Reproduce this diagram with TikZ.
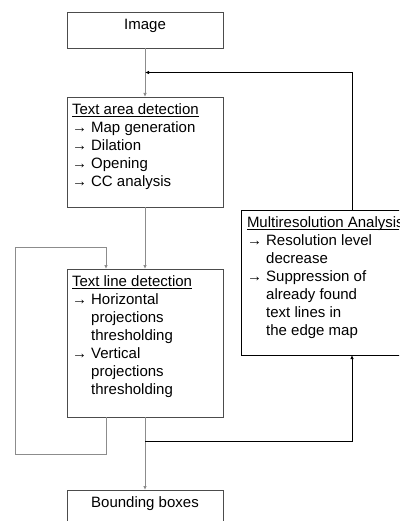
\documentclass[tikz,border=0pt]{standalone}
\usepackage{fontspec}
\setmainfont{Liberation Sans}
\usetikzlibrary{positioning,calc,arrows.meta}

\newlength{\arrowind}
\newsavebox{\titlebox}
\newcommand{\titleline}[1]{\sbox{\titlebox}{#1}\rlap{\rule[-1.8pt]{\wd\titlebox}{0.8pt}}\usebox{\titlebox}}
\newcommand{\flowitem}[1]{\par\settowidth{\arrowind}{→\ }\hangindent=\arrowind\hangafter=1\noindent→\ #1}
\newcommand{\boxtext}[3]{\begin{minipage}[t][#1][t]{#2}\raggedright\strut#3\end{minipage}}

\begin{document}
\begin{tikzpicture}[x=1pt, y=1pt,
				stage/.style={rectangle, draw=black!70, line width=0.8pt, inner xsep=5pt, inner ysep=5pt, outer sep=0pt, font=\fontsize{15}{18}\selectfont},
				multi/.style={stage, draw=black, inner xsep=6pt},
				flow/.style={draw=black!45, line width=0.9pt, -{Latex[length=4pt,width=3.5pt]}},
				back/.style={draw=black, line width=0.8pt, -{Latex[length=4pt,width=3.5pt]}}
			]
			\useasboundingbox (0,0) rectangle (399,-521);
			\clip (0,0) rectangle (399,-521);
			\node[stage, anchor=north west] (image) at (67,-12) {\boxtext{26pt}{146pt}{\centering Image}};
			\node[stage] (area) [below=49pt of image] {\boxtext{100pt}{146pt}{\titleline{Text area detection}
				\flowitem{Map generation}
				\flowitem{Dilation}
				\flowitem{Opening}
				\flowitem{CC analysis}}};
			\node[stage] (line) [below=62pt of area] {\boxtext{138pt}{146pt}{\titleline{Text line detection}
				\flowitem{Horizontal\newline projections\newline thresholding}
				\flowitem{Vertical\newline projections\newline thresholding}}};
			\node[stage] (bound) [below=73pt of line] {\boxtext{26pt}{146pt}{\centering Bounding boxes}};
			\node[multi, anchor=north west] (multires) at (241,-210) {\boxtext{135pt}{160pt}{\titleline{Multiresolution Analysis}
				\flowitem{Resolution level\newline decrease}
				\flowitem{Suppression of\newline already found\newline text lines in\newline the edge map}}};
			\coordinate (join) at ($(image.south)!0.5!(area.north)$);
			\coordinate (split) at ([yshift=-24pt]line.south);
			\coordinate (mtop) at ([xshift=111pt]multires.north west);
			\coordinate (mbot) at ([xshift=111pt]multires.south west);
			\draw[flow] (image.south) -- (area.north);
			\draw[flow] (area.south) -- (line.north);
			\draw[flow] (line.south) -- (bound.north);
			\draw[flow] ([xshift=39pt]line.south west) -- ++(0,-37pt) -| ([xshift=-52pt,yshift=22pt]line.north west) -| ([xshift=39pt]line.north west);
			\begin{scope}[back]
			\draw (mtop) |- (join);
			\draw (split) -| (mbot);
			\end{scope}
			\end{tikzpicture}
\end{document}
